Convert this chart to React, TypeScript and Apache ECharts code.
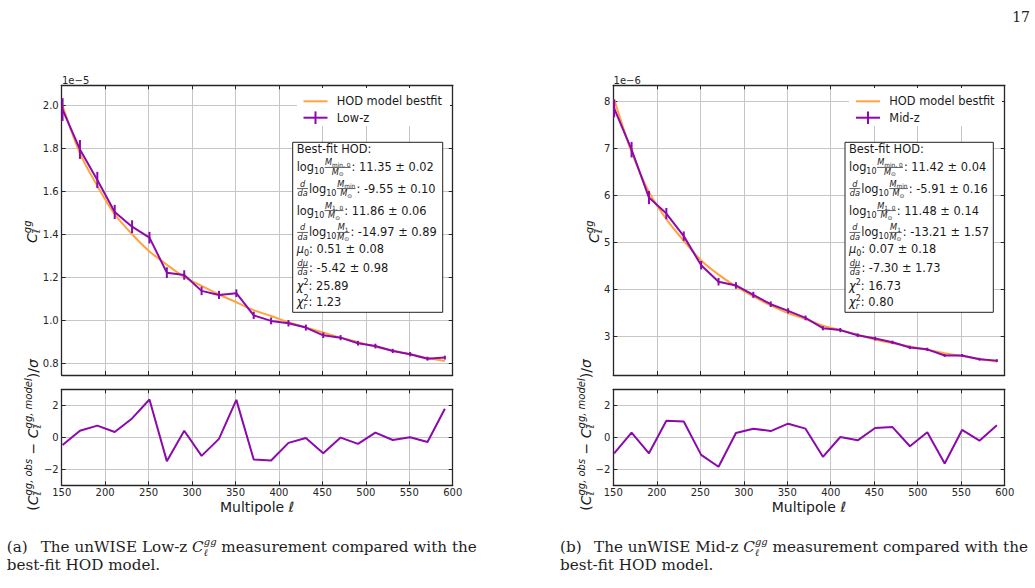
import React, { useEffect, useRef } from 'react';
import * as echarts from 'echarts';

// ---------------- data ----------------
const ELL = [151, 171, 191, 211, 231, 251, 271, 291, 311, 331, 351, 371, 391, 411, 431, 451, 471, 491, 511, 531, 551, 571, 591];

// Low-z, in units of 1e-5
const LOWZ_DATA = [1.982, 1.796, 1.654, 1.505, 1.436, 1.385, 1.222, 1.211, 1.137, 1.118, 1.126, 1.023, 0.997, 0.986, 0.966, 0.930, 0.919, 0.893, 0.880, 0.857, 0.842, 0.821, 0.826];
const LOWZ_ERR = [0.053, 0.044, 0.038, 0.033, 0.03, 0.027, 0.025, 0.022, 0.02, 0.019, 0.018, 0.017, 0.016, 0.015, 0.014, 0.013, 0.012, 0.011, 0.011, 0.01, 0.01, 0.009, 0.009];
const LOWZ_MODEL = [2.0, 1.778, 1.626, 1.494, 1.401, 1.321, 1.259, 1.202, 1.160, 1.120, 1.084, 1.047, 1.020, 0.991, 0.967, 0.943, 0.919, 0.898, 0.877, 0.859, 0.842, 0.824, 0.810];
const LOWZ_RESID = [-0.48, 0.41, 0.73, 0.33, 1.18, 2.36, -1.49, 0.41, -1.16, -0.10, 2.34, -1.39, -1.45, -0.35, -0.04, -0.99, -0.02, -0.41, 0.29, -0.17, 0.0, -0.29, 1.78];

// Mid-z, in units of 1e-6
const MIDZ_DATA = [7.86, 6.98, 5.96, 5.62, 5.14, 4.52, 4.17, 4.09, 3.89, 3.69, 3.55, 3.40, 3.18, 3.14, 3.03, 2.96, 2.88, 2.77, 2.73, 2.60, 2.60, 2.52, 2.49];
const MIDZ_ERR = [0.19, 0.165, 0.14, 0.12, 0.1, 0.09, 0.08, 0.07, 0.065, 0.06, 0.055, 0.05, 0.045, 0.045, 0.04, 0.04, 0.035, 0.035, 0.035, 0.03, 0.03, 0.03, 0.03];
const MIDZ_MODEL = [8.05, 6.93, 6.08, 5.50, 5.04, 4.62, 4.32, 4.07, 3.855, 3.667, 3.503, 3.373, 3.235, 3.14, 3.038, 2.937, 2.858, 2.79, 2.719, 2.649, 2.586, 2.526, 2.468];
const MIDZ_RESID = [-1.0, 0.29, -1.0, 1.04, 0.99, -1.10, -1.84, 0.27, 0.54, 0.39, 0.85, 0.54, -1.22, 0.02, -0.19, 0.58, 0.64, -0.56, 0.31, -1.64, 0.46, -0.21, 0.75];

const LOWZ_FIT = ['11.35 ± 0.02', '-9.55 ± 0.10', '11.86 ± 0.06', '-14.97 ± 0.89', '0.51 ± 0.08', '-5.42 ± 0.98', '25.89', '1.23'];
const MIDZ_FIT = ['11.42 ± 0.04', '-5.91 ± 0.16', '11.48 ± 0.14', '-13.21 ± 1.57', '0.07 ± 0.18', '-7.30 ± 1.73', '16.73', '0.80'];

const X_MIN = 150, X_MAX = 600, X_STEP = 50;

// ---------------- styles ----------------
const PURPLE = '#8c0aab';
const ORANGE = '#ffa43c';
const AXC = '#262626';
const GRIDC = '#c6c6c6';
const TXT = '#1a1a1a';
const SANS = 'DejaVu Sans';
const SERIF = 'DejaVu Serif';

// ---------------- math-ish text layout ----------------
type Tok = { t: string; f: number; dy?: number; it?: boolean };
type Item = Tok | { num: Item[]; den: Item[]; bar: number } | { sup: Item[]; sub: Item[] };

let _ctx: CanvasRenderingContext2D | null = null;
function textWidth(t: string, f: number, it: boolean, fam: string) {
  if (!_ctx) _ctx = document.createElement('canvas').getContext('2d');
  _ctx!.font = `${it ? 'italic ' : ''}${f}px "${fam}"`;
  return _ctx!.measureText(t).width;
}

function lay(items: Item[], x0: number, base: number, fam: string, color: string, out: any[] | null): number {
  let x = x0;
  for (const it of items) {
    if ('t' in it) {
      const w = textWidth(it.t, it.f, !!it.it, fam);
      if (out)
        out.push({
          type: 'text', x, y: base + (it.dy || 0) - 0.35 * it.f,
          style: { text: it.t, fontSize: it.f, fontFamily: fam, fontStyle: it.it ? 'italic' : 'normal', fill: color, align: 'left', verticalAlign: 'middle' },
        });
      x += w;
    } else if ('num' in it) {
      const wn = lay(it.num, 0, 0, fam, color, null);
      const wd = lay(it.den, 0, 0, fam, color, null);
      const w = Math.max(wn, wd) + 1.5;
      const by = base + it.bar;
      if (out) {
        lay(it.num, x + (w - wn) / 2, by - 2.0, fam, color, out);
        lay(it.den, x + (w - wd) / 2, by + 7.6, fam, color, out);
        out.push({ type: 'rect', shape: { x: x + 0.4, y: by - 0.35, width: w - 0.8, height: 0.7 }, style: { fill: color } });
      }
      x += w + 0.5;
    } else {
      const ws = lay(it.sup, x, base, fam, color, out);
      const wb = lay(it.sub, x, base, fam, color, out);
      x += Math.max(ws, wb);
    }
  }
  return x - x0;
}

function line(items: Item[], x: number, base: number, fam: string, color: string) {
  const out: any[] = [];
  lay(items, x, base, fam, color, out);
  return out;
}

function centered(items: Item[], cx: number, base: number, fam: string, color: string) {
  const w = lay(items, 0, 0, fam, color, null);
  return line(items, cx - w / 2, base, fam, color);
}

function vertical(items: Item[], baseX: number, centerY: number, fam: string, color: string) {
  const w = lay(items, 0, 0, fam, color, null);
  const children: any[] = [];
  lay(items, 0, 0, fam, color, children);
  return { type: 'group', x: baseX, y: centerY + w / 2, rotation: Math.PI / 2, children };
}

const F = 11.4;
const SUB = 8;
const FR = 8.2;
const FRS = 5.8;
const Mfrac = (sub: string): Item => ({
  num: [{ t: 'M', f: FR, it: true }, { t: sub, f: FRS, dy: 1.3 }],
  den: [{ t: 'M', f: FR, it: true }, { t: '⊙', f: FRS, dy: 1.3 }],
  bar: -4.1,
});
const dda: Item = { num: [{ t: 'd', f: FR, it: true }], den: [{ t: 'da', f: FR, it: true }], bar: -4.1 };
const log10: Item[] = [{ t: 'log', f: F }, { t: '10', f: SUB, dy: 3 }];

function fitLines(vals: string[]): Item[][] {
  return [
    [{ t: 'Best-fit HOD:', f: F }],
    [...log10, Mfrac('min, 0'), { t: ': ' + vals[0], f: F }],
    [dda, ...log10, Mfrac('min'), { t: ': ' + vals[1], f: F }],
    [...log10, Mfrac('1, 0'), { t: ': ' + vals[2], f: F }],
    [dda, ...log10, Mfrac('1'), { t: ': ' + vals[3], f: F }],
    [{ t: 'μ', f: F, it: true }, { t: '0', f: SUB, dy: 3 }, { t: ': ' + vals[4], f: F }],
    [{ num: [{ t: 'dμ', f: FR, it: true }], den: [{ t: 'da', f: FR, it: true }], bar: -4.1 }, { t: ': ' + vals[5], f: F }],
    [{ t: 'χ', f: F, it: true }, { t: '2', f: SUB, dy: -5 }, { t: ': ' + vals[6], f: F }],
    [{ t: 'χ', f: F, it: true }, { sup: [{ t: '2', f: SUB, dy: -5 }], sub: [{ t: 'r', f: SUB, it: true, dy: 3 }] }, { t: ': ' + vals[7], f: F }],
  ];
}
const BOX_BASE = [11, 29.1, 50.5, 72.5, 94.1, 111.1, 129.5, 147.5, 163.5];

function fitBox(vals: string[], bx: number, by: number, bw: number, bh: number) {
  const els: any[] = [
    { type: 'rect', shape: { x: bx, y: by, width: bw, height: bh }, style: { fill: '#ffffff', stroke: '#222222', lineWidth: 1 } },
  ];
  fitLines(vals).forEach((ln, i) => els.push(...line(ln, bx + 4, by + BOX_BASE[i], SANS, TXT)));
  return els;
}

function legend(rx: number, lineX0: number, textX: number, label: string) {
  const y1 = 101.3, y2 = 117.7;
  return [
    { type: 'rect', shape: { x: rx, y: 88, width: 153, height: 38 }, style: { fill: '#ffffff' } },
    { type: 'line', shape: { x1: lineX0, y1, x2: lineX0 + 24, y2: y1 }, style: { stroke: ORANGE, lineWidth: 2 } },
    { type: 'line', shape: { x1: lineX0, y1: y2, x2: lineX0 + 24, y2 }, style: { stroke: PURPLE, lineWidth: 2 } },
    { type: 'line', shape: { x1: lineX0 + 12, y1: y2 - 6.3, x2: lineX0 + 12, y2: y2 + 6.3 }, style: { stroke: PURPLE, lineWidth: 2 } },
    { type: 'text', x: textX, y: y1, style: { text: 'HOD model bestfit', fontSize: F, fontFamily: SANS, fill: TXT, verticalAlign: 'middle' } },
    { type: 'text', x: textX, y: y2, style: { text: label, fontSize: F, fontFamily: SANS, fill: TXT, verticalAlign: 'middle' } },
  ];
}

const CL: Item[] = [{ t: 'C', f: 14, it: true }, { sup: [{ t: 'gg', f: 10, it: true, dy: -6 }], sub: [{ t: 'ℓ', f: 10, it: true, dy: 3 }] }];
const RESID_LABEL: Item[] = [
  { t: '(', f: 14 },
  { t: 'C', f: 14, it: true },
  { sup: [{ t: 'gg, obs', f: 10, it: true, dy: -6 }], sub: [{ t: 'ℓ', f: 10, it: true, dy: 3 }] },
  { t: ' − ', f: 14 },
  { t: 'C', f: 14, it: true },
  { sup: [{ t: 'gg, model', f: 10, it: true, dy: -6 }], sub: [{ t: 'ℓ', f: 10, it: true, dy: 3 }] },
  { t: ')/', f: 14 },
  { t: 'σ', f: 14, it: true },
];
const XLABEL: Item[] = [{ t: 'Multipole ', f: 14 }, { t: 'ℓ', f: 14, it: true }];

const CAPF = 15.2;
const capMath: Item[] = [{ t: 'C', f: CAPF, it: true }, { sup: [{ t: 'gg', f: 10, it: true, dy: -7.2 }], sub: [{ t: 'ℓ', f: 10, it: true, dy: 3.8 }] }];

function caption(tag: string, sample: string, x: number) {
  const c = '#1e1e1e';
  return [
    ...line([{ t: tag, f: CAPF }], x + 0.5, 552.5, SERIF, c),
    ...line([{ t: `The unWISE ${sample} `, f: CAPF }, ...capMath, { t: ' measurement compared with the', f: CAPF }], x + 34.5, 552.5, SERIF, c),
    ...line([{ t: 'best-fit HOD model.', f: CAPF }], x + 0.5, 570, SERIF, c),
  ];
}

function setZ(els: any[], z: number) {
  els.forEach((e) => {
    e.z = z;
    e.silent = true;
    if (e.children) setZ(e.children, z);
  });
  return els;
}

// ---------------- axes ----------------
function xPair(g: number, labels: boolean) {
  const base = { type: 'value', gridIndex: g, min: X_MIN, max: X_MAX, interval: X_STEP };
  return [
    {
      ...base, position: 'bottom',
      axisLine: { show: true, onZero: false, lineStyle: { color: AXC, width: 1.3 } },
      axisTick: { show: true, inside: true, length: 4, lineStyle: { color: AXC, width: 1 } },
      axisLabel: { show: labels, color: AXC, fontSize: 10, fontFamily: SANS, margin: 2 },
      splitLine: { show: true, lineStyle: { color: GRIDC, width: 1 } },
    },
    {
      ...base, position: 'top',
      axisLine: { show: true, onZero: false, lineStyle: { color: AXC, width: 1.3 } },
      axisTick: { show: true, inside: true, length: 4, lineStyle: { color: AXC, width: 1 } },
      axisLabel: { show: false },
      splitLine: { show: false },
    },
  ];
}

function yPair(g: number, min: number, max: number, step: number, fmt: (v: number) => string) {
  const base = { type: 'value', gridIndex: g, min, max, minInterval: step, maxInterval: step, splitNumber: Math.round((max - min) / step) };
  return [
    {
      ...base, position: 'left',
      axisLine: { show: true, onZero: false, lineStyle: { color: AXC, width: 1.3 } },
      axisTick: { show: true, inside: true, length: 4, lineStyle: { color: AXC, width: 1 } },
      axisLabel: { show: true, formatter: fmt, color: AXC, fontSize: 10, fontFamily: SANS, margin: 3, showMinLabel: false, showMaxLabel: false },
      splitLine: { show: true, lineStyle: { color: GRIDC, width: 1 } },
    },
    {
      ...base, position: 'right',
      axisLine: { show: true, onZero: false, lineStyle: { color: AXC, width: 1.3 } },
      axisTick: { show: true, inside: true, length: 4, lineStyle: { color: AXC, width: 1 } },
      axisLabel: { show: false },
      splitLine: { show: false },
    },
  ];
}

const minus = (v: number) => (v < 0 ? '−' + Math.abs(v) : String(v));

function errRender(params: any, api: any) {
  const x = api.value(0), y = api.value(1), e = api.value(2);
  const p1 = api.coord([x, y - e]);
  const p2 = api.coord([x, y + e]);
  return { type: 'line', shape: { x1: p1[0], y1: p1[1], x2: p2[0], y2: p2[1] }, style: { stroke: PURPLE, lineWidth: 2 } };
}

function panelSeries(xi: number, yi: number, rxi: number, ryi: number, data: number[], err: number[], model: number[], resid: number[]) {
  return [
    { type: 'line', xAxisIndex: xi, yAxisIndex: yi, data: ELL.map((l, i) => [l, model[i]]), smooth: 0.3, symbol: 'none', lineStyle: { color: ORANGE, width: 2 }, z: 2 },
    { type: 'line', xAxisIndex: xi, yAxisIndex: yi, data: ELL.map((l, i) => [l, data[i]]), symbol: 'none', lineStyle: { color: PURPLE, width: 2 }, z: 3 },
    { type: 'custom', xAxisIndex: xi, yAxisIndex: yi, encode: { x: 0, y: 1 }, data: ELL.map((l, i) => [l, data[i], err[i]]), renderItem: errRender, z: 4 },
    { type: 'line', xAxisIndex: rxi, yAxisIndex: ryi, data: ELL.map((l, i) => [l, resid[i]]), symbol: 'none', lineStyle: { color: PURPLE, width: 2 }, z: 3 },
  ];
}

export default function App() {
  const ref = useRef<HTMLDivElement>(null);
  useEffect(() => {
    if (!ref.current) return;
    const chart = echarts.init(ref.current, undefined, { renderer: 'svg' });
    const L = 61.7, R = 613.3, W = 391, TOP = 85.3, TH = 289.7, BT = 389.3, BH = 96;

    const graphics = setZ([
      { type: 'text', x: 1030, y: 17, style: { text: '17', fontSize: 14, fontFamily: SERIF, fill: '#222', align: 'right', verticalAlign: 'middle' } },
      { type: 'text', x: 62, y: 80, style: { text: '1e−5', fontSize: 10, fontFamily: SANS, fill: AXC, verticalAlign: 'middle' } },
      { type: 'text', x: 613.6, y: 80, style: { text: '1e−6', fontSize: 10, fontFamily: SANS, fill: AXC, verticalAlign: 'middle' } },
      ...legend(297, 303.5, 336.7, 'Low-z'),
      ...legend(849, 856, 889.3, 'Mid-z'),
      ...fitBox(LOWZ_FIT, 292.7, 142.3, 150, 170),
      ...fitBox(MIDZ_FIT, 845, 142.3, 148.3, 170),
      vertical(CL, 36.7, 231.7, SANS, TXT),
      vertical(CL, 598.5, 231.7, SANS, TXT),
      vertical(RESID_LABEL, 38.3, 435, SANS, TXT),
      vertical(RESID_LABEL, 590.8, 435, SANS, TXT),
      ...centered(XLABEL, 257.2, 511.6, SANS, TXT),
      ...centered(XLABEL, 809, 511.6, SANS, TXT),
      ...caption('(a)', 'Low-z', 6.2),
      ...caption('(b)', 'Mid-z', 559.5),
    ], 100);

    chart.setOption({
      animation: false,
      backgroundColor: '#ffffff',
      grid: [
        { left: L, top: TOP, width: W, height: TH },
        { left: L, top: BT, width: W, height: BH },
        { left: R, top: TOP, width: 391.4, height: TH },
        { left: R, top: BT, width: 391.4, height: BH },
      ],
      xAxis: [...xPair(0, false), ...xPair(1, true), ...xPair(2, false), ...xPair(3, true)],
      yAxis: [
        ...yPair(0, 0.745, 2.095, 0.2, (v) => v.toFixed(1)),
        ...yPair(1, -3, 3, 2, minus),
        ...yPair(2, 2.184, 8.35, 1, (v) => String(v)),
        ...yPair(3, -3, 3, 2, minus),
      ],
      series: [
        ...panelSeries(0, 0, 2, 2, LOWZ_DATA, LOWZ_ERR, LOWZ_MODEL, LOWZ_RESID),
        ...panelSeries(4, 4, 6, 6, MIDZ_DATA, MIDZ_ERR, MIDZ_MODEL, MIDZ_RESID),
      ],
      graphic: { elements: graphics },
    });
    return () => chart.dispose();
  }, []);
  return <div ref={ref} style={{ position: 'fixed', left: 0, top: 0, width: 1035, height: 588, background: '#fff' }} />;
}
